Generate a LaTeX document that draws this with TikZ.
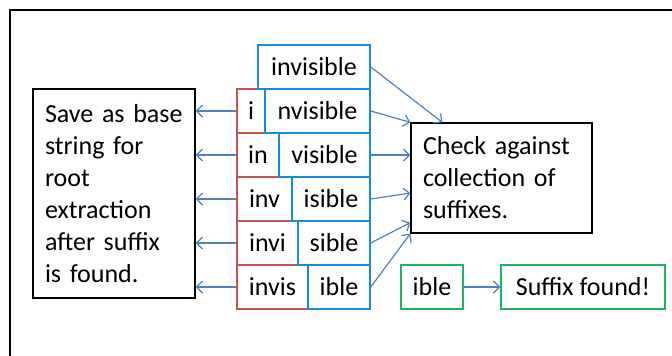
\documentclass[tikz,border=0pt]{standalone}
\usepackage{fontspec}
\setmainfont{Carlito}
\usetikzlibrary{arrows.meta,calc}
\definecolor{boxblue}{RGB}{20,140,215}
\definecolor{boxred}{RGB}{195,85,80}
\definecolor{boxgreen}{RGB}{30,180,100}
\definecolor{arrblue}{RGB}{79,129,189}
\tikzset{
  cell/.style={draw, line width=1.5pt, minimum height=44pt, inner sep=0pt, font=\fontsize{26}{32}\selectfont},
  bluecell/.style={cell, draw=boxblue},
  redcell/.style={cell, draw=boxred},
  greencell/.style={cell, draw=boxgreen},
  textbox/.style={draw=black, line width=1.3pt, inner sep=0pt, align=left, font=\fontsize{26}{32}\selectfont},
  arr/.style={draw=arrblue, line width=1.2pt, -{Straight Barb[length=6pt,width=12pt,line width=1.2pt]}},
}
\begin{document}
\begin{tikzpicture}[x=1pt,y=-1pt]
\useasboundingbox (0,0) rectangle (672,356);
% frame
\draw[line width=1.5pt] (10,356) -- (10,10) -- (672,10);
% red boxes
\node[redcell, minimum width=28pt] (r1) at (251,111) {i};
\node[redcell, minimum width=42pt] (r2) at (258,155) {in};
\node[redcell, minimum width=55pt] (r3) at (264.5,199) {inv};
\node[redcell, minimum width=61pt] (r4) at (267.5,243) {invi};
\node[redcell, minimum width=71pt] (r5) at (272.5,287) {invis};
% blue boxes
\node[bluecell, minimum width=112pt] (b0) at (314,67) {invisible};
\node[bluecell, minimum width=105pt] (b1) at (317.5,111) {nvisible};
\node[bluecell, minimum width=91pt] (b2) at (324.5,155) {visible};
\node[bluecell, minimum width=78pt] (b3) at (331,199) {isible};
\node[bluecell, minimum width=72pt] (b4) at (334,243) {sible};
\node[bluecell, minimum width=62pt] (b5) at (339,287) {ible};
% text boxes
\node[textbox, minimum width=162pt, minimum height=209pt, text width=138pt] (save) at (114,193.5)
  {Save as base\\string for\\root\\extraction\\after suffix\\is found.};
\node[textbox, minimum width=181pt, minimum height=110pt, text width=157pt] (check) at (501.5,178)
  {Check against\\collection of\\suffixes.};
\node[greencell, minimum width=62pt] (g1) at (432,287) {ible};
\node[greencell, minimum width=164pt] (g2) at (583,287) {Suffix found!};
% arrows to save box
\foreach \r in {r1,r2,r3,r4,r5}
  \draw[arr] (\r.west) -- (\r.west -| save.east);
% arrows to check box
\draw[arr] (b0.east) -- ($(check.north west)+(32,0)$);
\draw[arr] (b1.east) -- (check.north west);
\draw[arr] (b2.east) -- (b2.east -| check.west);
\draw[arr] (b3.east) -- ($(check.west)+(0,15)$);
\draw[arr] (b4.east) -- ($(check.south west)+(0,-11)$);
\draw[arr] (b5.east) -- (check.south west);
% suffix found
\draw[arr] (g1.east) -- (g2.west);
\end{tikzpicture}
\end{document}
